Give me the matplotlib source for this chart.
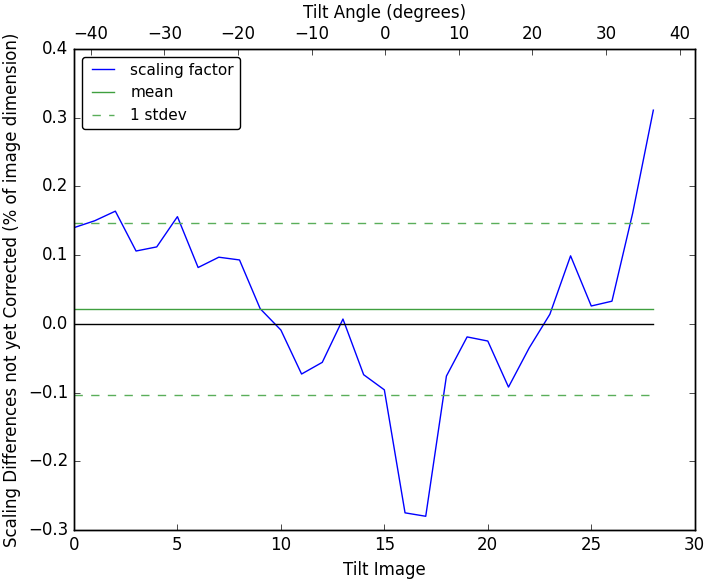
import numpy as np
import matplotlib
matplotlib.use("Agg")
import matplotlib.pyplot as plt
from matplotlib.ticker import MultipleLocator

plt.style.use("classic")

# scaling factor difference per tilt image
scaling = [0.140, 0.150, 0.164, 0.106, 0.112, 0.156, 0.082, 0.097, 0.093, 0.022,
           -0.009, -0.073, -0.056, 0.007, -0.074, -0.096, -0.275, -0.280, -0.076,
           -0.019, -0.025, -0.092, -0.035, 0.014, 0.099, 0.026, 0.033, 0.161, 0.311]
images = np.arange(len(scaling))
mean_val = 0.022
std_val = 0.125
angle_lim = (-42.3, 42.05)


def main():
    fig = plt.figure(figsize=(7.14, 5.79), dpi=100)
    ax = fig.add_axes([0.1036, 0.0846, 0.8694, 0.8308])
    last = images[-1]
    ax.plot(images, scaling, color="b", label="scaling factor")
    ax.plot([0, last], [mean_val, mean_val], color="#3f9f3f", label="mean")
    ax.plot([0, last], [mean_val + std_val] * 2, "--", color="#5aae5a", label="1 stdev")
    ax.plot([0, last], [mean_val - std_val] * 2, "--", color="#5aae5a")
    ax.plot([0, last], [0, 0], color="k")
    ax.set_xlim(0, 30)
    ax.set_ylim(-0.3, 0.4)
    ax.set_xlabel("Tilt Image")
    ax.set_ylabel("Scaling Differences not yet Corrected (% of image dimension)")
    ax.legend(loc="upper left", fontsize=11, fancybox=True)

    ax2 = ax.twiny()
    ax2.set_xlim(*angle_lim)
    ax2.xaxis.set_major_locator(MultipleLocator(10))
    ax2.set_xlabel("Tilt Angle (degrees)")

    fig.savefig("out.png", dpi=100)


if __name__ == "__main__":
    main()
